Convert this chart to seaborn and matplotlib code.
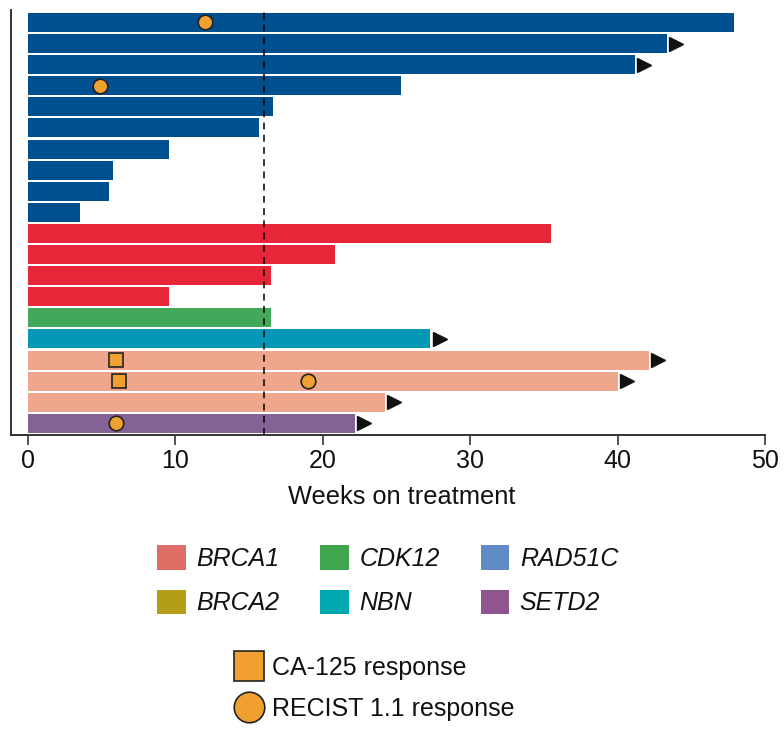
import pandas as pd
import matplotlib.pyplot as plt
import seaborn as sns
from matplotlib.patches import Patch
from matplotlib.lines import Line2D

sns.set_style('white')
plt.rcParams['font.family'] = ['Liberation Sans', 'DejaVu Sans']

# Data: one bar per patient, top to bottom
weeks = [47.9, 43.35, 41.2, 25.3, 16.6, 15.7, 9.6, 5.8, 5.5, 3.5,
         35.5, 20.8, 16.5, 9.6,
         16.5,
         27.3,
         42.1, 40.0, 24.2,
         22.2]
gene = ['BRCA1'] * 10 + ['BRCA2'] * 4 + ['CDK12'] + ['NBN'] + ['RAD51C'] * 3 + ['SETD2']
ongoing = [False, True, True, False, False, False, False, False, False, False,
           False, False, False, False,
           False,
           True,
           True, True, True,
           True]

# Response markers: (patient index, week)
recist_patient = [0, 3, 17, 19]
recist_week = [12.0, 4.9, 19.0, 6.0]
ca125_patient = [16, 17]
ca125_week = [6.0, 6.2]

threshold_week = 16

bar_colors = {'BRCA1': '#00508F', 'BRCA2': '#E8263A', 'CDK12': '#43A95A',
              'NBN': '#0397B8', 'RAD51C': '#EEA68C', 'SETD2': '#856296'}
legend_colors = {'BRCA1': '#E06C66', 'BRCA2': '#B59E17', 'CDK12': '#3FA64E',
                 'NBN': '#00A9B0', 'RAD51C': '#5F8AC4', 'SETD2': '#8E5590'}
marker_color = '#F0A030'

df = pd.DataFrame({'patient': [f'P{i + 1}' for i in range(len(weeks))],
                   'weeks': weeks, 'gene': gene, 'ongoing': ongoing})
df['pos'] = range(len(df))

fig = plt.figure(figsize=(7.84, 7.30), dpi=100)
ax = fig.add_axes([11 / 784, 1 - 435 / 730, 754 / 784, 425 / 730])

sns.barplot(data=df, x='weeks', y='patient', hue='gene', palette=bar_colors,
            dodge=False, width=0.9, orient='h', legend=False, ax=ax,
            edgecolor='none', saturation=1)

# ongoing arrows
ong = df[df['ongoing']]
ax.plot(ong['weeks'] + 0.62, ong['pos'], linestyle='none', marker='>',
        markersize=10, color='#111111', clip_on=False)

ax.plot(ca125_week, ca125_patient, linestyle='none', marker='s', markersize=10,
        markerfacecolor=marker_color, markeredgecolor='#222222', markeredgewidth=1.2)
ax.plot(recist_week, recist_patient, linestyle='none', marker='o', markersize=10.5,
        markerfacecolor=marker_color, markeredgecolor='#222222', markeredgewidth=1.2)

ax.axvline(threshold_week, color='black', linestyle=(0, (4.5, 3.5)), linewidth=1.1)

ax.set_xlim(-1.15, 50)
ax.set_ylim(19.55, -0.59)
ax.set_xticks([0, 10, 20, 30, 40, 50])
ax.set_yticks([])
ax.set_ylabel('')
ax.set_xlabel('Weeks on treatment', fontsize=18.3, color='#111111')
ax.xaxis.set_label_coords(0.518, -0.118)
ax.xaxis.label.set_va('top')
ax.tick_params(axis='x', labelsize=18, length=7, width=1.3, color='#444444',
               pad=3, labelcolor='#111111', bottom=True)
for s in ['top', 'right']:
    ax.spines[s].set_visible(False)
for s in ['left', 'bottom']:
    ax.spines[s].set_color('#333333')
    ax.spines[s].set_linewidth(1.4)

# gene legend
gene_order = ['BRCA1', 'BRCA2', 'CDK12', 'NBN', 'RAD51C', 'SETD2']
gene_handles = [Patch(facecolor=legend_colors[g], edgecolor='none', label=g) for g in gene_order]
leg1 = fig.legend(handles=gene_handles, loc='upper left', bbox_to_anchor=(157 / 784, 1 - 545 / 730),
                  ncol=3, frameon=False, prop={'size': 18, 'style': 'italic'},
                  handlelength=1.15, handleheight=1.15, handletextpad=0.42,
                  labelspacing=0.75, columnspacing=1.63, borderpad=0, borderaxespad=0)

resp_handles = [
    Line2D([], [], linestyle='none', marker='s', markersize=21, markerfacecolor=marker_color,
           markeredgecolor='#222222', markeredgewidth=1.2, label='CA-125 response'),
    Line2D([], [], linestyle='none', marker='o', markersize=22, markerfacecolor=marker_color,
           markeredgecolor='#222222', markeredgewidth=1.2, label='RECIST 1.1 response'),
]
leg2 = fig.legend(handles=resp_handles, loc='upper left', bbox_to_anchor=(233 / 784, 1 - 656 / 730),
                  frameon=False, prop={'size': 18}, handlelength=1.25, handletextpad=0.3,
                  labelspacing=0.68, borderpad=0, borderaxespad=0)
for t in leg1.get_texts() + leg2.get_texts():
    t.set_color('#111111')

fig.savefig('out.png', dpi=100)
plt.close(fig)
